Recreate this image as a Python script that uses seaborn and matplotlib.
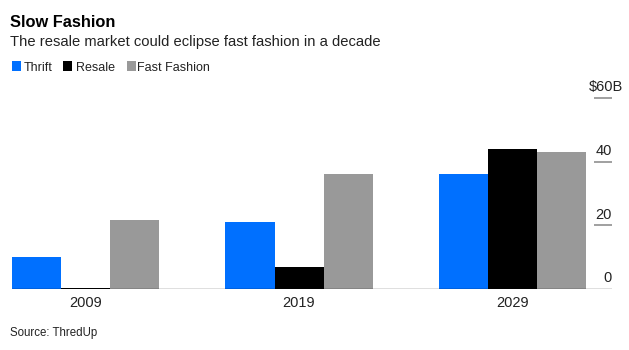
import matplotlib
matplotlib.use("Agg")
import matplotlib.pyplot as plt
import matplotlib.transforms as mtransforms
from matplotlib.patches import Rectangle
import seaborn as sns
import pandas as pd

years = ["2009", "2019", "2029"]
series = ["Thrift", "Resale", "Fast Fashion"]
thrift = [10, 21, 36]
resale = [0.3, 7, 44]
fast_fashion = [21.8, 36, 43]
colors = ["#0070FF", "#000000", "#999999"]
ytick_vals = [0, 20, 40, 60]
ytick_labels = ["0", "20", "40", "$60B"]

df = pd.DataFrame({
    "year": years * 3,
    "series": [series[0]] * 3 + [series[1]] * 3 + [series[2]] * 3,
    "value": thrift + resale + fast_fashion,
})

sns.set_style("white")
FONT = ["Liberation Sans", "DejaVu Sans"]
plt.rcParams["font.family"] = FONT

W, H = 629, 350
fig = plt.figure(figsize=(W / 100, H / 100), dpi=100)
ax = fig.add_axes([12 / W, 1 - 289 / H, 600 / W, (289 - 98) / H])

sns.barplot(data=df, x="year", y="value", hue="series", hue_order=series,
            palette=colors, saturation=1, width=0.69, dodge=True,
            legend=False, ax=ax, linewidth=0, errorbar=None)

ax.set_xlim(-0.347, 2.469)
ax.set_ylim(0, 60)
for s in ax.spines.values():
    s.set_visible(False)
ax.set_xlabel("")
ax.set_ylabel("")
ax.set_yticks([])
ax.tick_params(axis="x", length=0, pad=5, labelsize=10.5, labelcolor="#222222")
ax.axhline(0, color="black", lw=0.9, zorder=5)

ytr = ax.get_yaxis_transform()
for v, lab in zip(ytick_vals, ytick_labels):
    if v > 0:
        ax.plot([0.97, 1.0], [v, v], transform=ytr, color="#999999", lw=1.3,
                clip_on=False, solid_capstyle="butt")
    off = mtransforms.offset_copy(ytr, fig=fig, x=0, y=10.5 * 0.72, units="points")
    xpos = 1.018 if lab.startswith("$") else 1.0
    ax.text(xpos, v, lab, transform=off, ha="right", va="center",
            fontsize=10.5, color="#222222", clip_on=False)

fig.text(10 / W, 1 - 27 / H, "Slow Fashion", fontsize=11.8, fontweight="bold",
         va="baseline", ha="left", color="black")
fig.text(10 / W, 1 - 45.7 / H, "The resale market could eclipse fast fashion in a decade",
         fontsize=10.6, va="baseline", ha="left", color="#222222")

# legend
leg_items = [(12, 24, series[0], colors[0]), (63, 76, series[1], colors[1]),
             (127, 137, series[2], colors[2])]
for sx, tx, lab, c in leg_items:
    fig.patches.append(Rectangle((sx / W, 1 - 71 / H), 8.5 / W, 10 / H,
                                 transform=fig.transFigure, color=c, lw=0))
    fig.text(tx / W, 1 - 71 / H, lab, fontsize=9, va="baseline", ha="left",
             color="#222222")

fig.text(10 / W, 1 - 336 / H, "Source: ThredUp", fontsize=8.3, va="baseline",
         ha="left", color="#222222")

fig.savefig("out.png", dpi=100)
